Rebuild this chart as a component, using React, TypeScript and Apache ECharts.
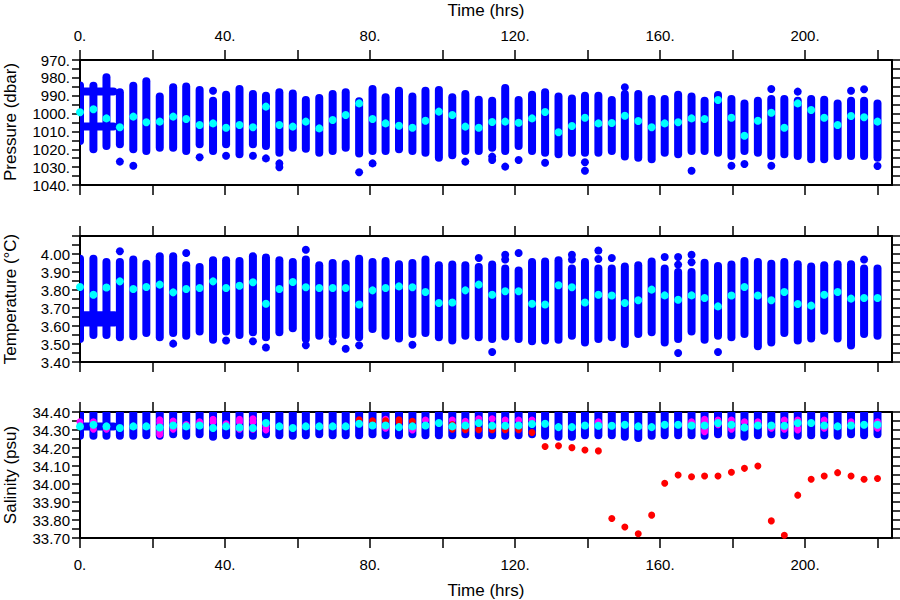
import React, { useEffect, useRef } from "react";
import * as echarts from "echarts";

// ---- axis ticks / labels ----
const timeTicks = [0, 20, 40, 60, 80, 100, 120, 140, 160, 180, 200, 220];
const timeLabels = [0, 40, 80, 120, 160, 200];
const pressureTicks = [970, 975, 980, 985, 990, 995, 1000, 1005, 1010, 1015, 1020, 1025, 1030, 1035, 1040];
const pressureLabels = [970, 980, 990, 1000, 1010, 1020, 1030, 1040];
const temperatureTicks = [3.4, 3.45, 3.5, 3.55, 3.6, 3.65, 3.7, 3.75, 3.8, 3.85, 3.9, 3.95, 4.0, 4.05, 4.1];
const temperatureLabels = [3.4, 3.5, 3.6, 3.7, 3.8, 3.9, 4.0];
const salinityTicks = [33.7, 33.75, 33.8, 33.85, 33.9, 33.95, 34.0, 34.05, 34.1, 34.15, 34.2, 34.25, 34.3, 34.35, 34.4];
const salinityLabels = [33.7, 33.8, 33.9, 34.0, 34.1, 34.2, 34.3, 34.4];

// ---- profile times (hrs) ----
const profileTimes = [0, 3.7, 7.3, 11.0, 14.7, 18.3, 22.0, 25.7, 29.3, 33.0, 36.7, 40.3, 44.0, 47.7, 51.3, 55.0, 58.7, 62.3, 66.0, 69.7, 73.3, 77.0, 80.7, 84.3, 88.0, 91.7, 95.3, 99.0, 102.7, 106.3, 110.0, 113.7, 117.3, 121.0, 124.7, 128.3, 132.0, 135.7, 139.3, 143.0, 146.7, 150.3, 154.0, 157.7, 161.3, 165.0, 168.7, 172.3, 176.0, 179.7, 183.3, 187.0, 190.7, 194.3, 198.0, 201.7, 205.3, 209.0, 212.7, 216.3, 220.0];

// ---- pressure (dbar) ----
const pressureTop = [984.3, 984.4, 979.7, 988.1, 984.4, 981.9, 990.5, 985.3, 984.9, 986.8, 992.8, 989.4, 986.2, 989.0, 990.0, 988.1, 988.7, 992.4, 991.3, 989.0, 988.1, 993.1, 986.2, 990.9, 987.2, 990.5, 987.2, 986.8, 990.9, 989.0, 992.2, 992.8, 985.7, 992.4, 989.4, 988.1, 990.5, 991.5, 990.0, 990.0, 992.4, 989.0, 989.0, 991.8, 991.8, 989.4, 990.5, 992.8, 989.6, 991.8, 994.3, 992.8, 991.8, 991.8, 992.8, 991.8, 992.2, 994.3, 992.8, 992.8, 994.3];
const pressureBottom = [1015.4, 1020.0, 1018.2, 1017.2, 1020.0, 1021.0, 1019.1, 1019.1, 1021.0, 1017.2, 1021.0, 1017.2, 1022.8, 1017.2, 1018.2, 1021.9, 1019.1, 1019.7, 1021.9, 1021.0, 1019.1, 1022.3, 1021.0, 1021.0, 1020.0, 1021.0, 1021.9, 1024.7, 1023.4, 1021.0, 1021.0, 1019.1, 1021.0, 1018.2, 1021.0, 1021.9, 1022.8, 1021.9, 1021.9, 1021.9, 1021.0, 1024.1, 1024.7, 1025.6, 1021.9, 1022.8, 1021.0, 1021.0, 1021.9, 1023.8, 1021.0, 1021.9, 1023.8, 1022.8, 1023.8, 1025.6, 1025.6, 1023.8, 1023.8, 1023.8, 1024.7];
const pressureMean = [999.3, 997.6, 1002.7, 1007.7, 1001.7, 1004.9, 1004.5, 1001.7, 1003.0, 1006.4, 1005.5, 1007.9, 1006.4, 1007.7, 996.1, 1006.4, 1007.3, 1004.5, 1008.3, 1003.6, 1000.8, 994.3, 1003.0, 1005.5, 1006.8, 1007.9, 1004.0, 998.9, 1000.8, 1007.3, 1007.9, 1004.7, 1004.5, 1005.1, 1002.7, 999.1, 1010.5, 1007.0, 1002.3, 1005.5, 1005.3, 1001.2, 1004.2, 1007.7, 1005.5, 1004.9, 1002.7, 1003.0, 992.4, 1002.3, 1012.4, 1004.0, 999.5, 1007.9, 994.3, 998.0, 1002.3, 1006.4, 1001.4, 1002.1, 1004.5];
const pressureOutliers = [
  [11.0, 1026.9], [14.7, 1029.2], [33.0, 1024.5], [36.7, 987.2], [40.3, 1023.6], [47.7, 1023.6], [51.3, 1025.1],
  [55.0, 1027.9], [55.0, 1030.1], [77.0, 1032.9], [80.7, 1027.9], [106.3, 1026.9], [113.7, 1024.1], [113.7, 1026.0],
  [117.3, 1029.7], [121.0, 1026.0], [128.3, 1027.5], [139.3, 1027.3], [139.3, 1032.0], [150.3, 985.3], [168.7, 1032.0],
  [179.7, 1029.2], [183.3, 1028.2], [190.7, 986.2], [190.7, 1029.2], [198.0, 987.7], [212.7, 987.2], [216.3, 986.4], [220.0, 1029.4],
];
// stationary (start, end, value) record at the start of the cruise
const pressureStation = [[0, 9.2, 987.7], [0, 9.2, 1007.3]];

// ---- temperature (deg C) ----
const temperatureTop = [3.974, 3.974, 3.956, 3.956, 3.969, 3.946, 3.987, 3.987, 3.937, 3.928, 3.965, 3.965, 3.961, 3.987, 3.980, 3.965, 3.956, 3.969, 3.937, 3.950, 3.946, 3.974, 3.956, 3.961, 3.943, 3.950, 3.969, 3.937, 3.941, 3.937, 3.928, 3.941, 3.919, 3.909, 3.956, 3.959, 3.965, 3.919, 3.956, 3.919, 3.919, 3.931, 3.937, 3.959, 3.919, 3.900, 3.900, 3.952, 3.933, 3.941, 3.961, 3.956, 3.946, 3.956, 3.943, 3.931, 3.937, 3.943, 3.943, 3.919, 3.919];
const temperatureBottom = [3.528, 3.550, 3.550, 3.537, 3.543, 3.561, 3.537, 3.561, 3.546, 3.569, 3.524, 3.569, 3.550, 3.565, 3.537, 3.565, 3.587, 3.528, 3.546, 3.546, 3.550, 3.537, 3.583, 3.546, 3.531, 3.556, 3.561, 3.537, 3.519, 3.546, 3.537, 3.528, 3.541, 3.528, 3.515, 3.519, 3.524, 3.546, 3.509, 3.528, 3.537, 3.500, 3.556, 3.565, 3.509, 3.528, 3.569, 3.524, 3.546, 3.537, 3.556, 3.487, 3.509, 3.561, 3.519, 3.531, 3.574, 3.531, 3.491, 3.556, 3.546];
const temperatureMean = [3.817, 3.774, 3.814, 3.848, 3.806, 3.817, 3.830, 3.787, 3.806, 3.811, 3.848, 3.811, 3.824, 3.843, 3.724, 3.806, 3.844, 3.815, 3.811, 3.811, 3.811, 3.719, 3.798, 3.811, 3.820, 3.815, 3.789, 3.728, 3.731, 3.798, 3.830, 3.774, 3.793, 3.793, 3.724, 3.719, 3.826, 3.815, 3.731, 3.774, 3.769, 3.728, 3.743, 3.802, 3.770, 3.746, 3.770, 3.756, 3.709, 3.769, 3.817, 3.769, 3.743, 3.789, 3.722, 3.713, 3.774, 3.789, 3.752, 3.756, 3.756];
const temperatureOutliers = [
  [11.0, 4.015], [25.7, 3.502], [29.3, 4.006], [40.3, 3.519], [47.7, 3.515], [51.3, 3.481], [62.3, 4.024], [62.3, 3.493],
  [69.7, 3.515], [73.3, 3.474], [77.0, 3.493], [91.7, 3.496], [110.0, 3.978], [113.7, 3.456], [117.3, 3.996], [117.3, 3.969],
  [121.0, 4.006], [135.7, 3.996], [135.7, 3.969], [143.0, 4.019], [143.0, 3.972], [146.7, 3.978], [161.3, 3.983],
  [165.0, 3.983], [165.0, 3.941], [165.0, 3.450], [168.7, 3.996], [168.7, 3.954], [176.0, 3.456], [216.3, 3.969],
];
const temperatureStation = [[0, 9.5, 3.62], [0, 9.5, 3.64], [0, 9.5, 3.66]];

// ---- salinity (psu) ----
const salinityTop = [34.42, 34.42, 34.42, 34.42, 34.42, 34.42, 34.42, 34.42, 34.42, 34.42, 34.42, 34.42, 34.42, 34.42, 34.42, 34.42, 34.42, 34.42, 34.42, 34.42, 34.42, 34.42, 34.42, 34.42, 34.42, 34.42, 34.42, 34.42, 34.42, 34.42, 34.42, 34.42, 34.42, 34.42, 34.42, 34.42, 34.42, 34.42, 34.42, 34.42, 34.42, 34.42, 34.42, 34.42, 34.42, 34.42, 34.42, 34.42, 34.42, 34.42, 34.42, 34.42, 34.42, 34.42, 34.42, 34.42, 34.42, 34.42, 34.42, 34.42, 34.42];
const salinityBottom = [34.268, 34.268, 34.268, 34.268, 34.268, 34.271, 34.268, 34.277, 34.268, 34.277, 34.262, 34.271, 34.271, 34.268, 34.277, 34.271, 34.268, 34.271, 34.277, 34.271, 34.271, 34.271, 34.277, 34.271, 34.271, 34.277, 34.271, 34.271, 34.271, 34.277, 34.271, 34.271, 34.268, 34.271, 34.277, 34.268, 34.262, 34.262, 34.271, 34.271, 34.271, 34.262, 34.255, 34.268, 34.271, 34.271, 34.271, 34.268, 34.277, 34.271, 34.262, 34.271, 34.277, 34.271, 34.268, 34.271, 34.271, 34.268, 34.277, 34.271, 34.277];
const salinityMean = [34.320, 34.329, 34.320, 34.311, 34.320, 34.320, 34.314, 34.325, 34.320, 34.325, 34.311, 34.320, 34.314, 34.311, 34.339, 34.320, 34.311, 34.320, 34.320, 34.320, 34.320, 34.335, 34.325, 34.325, 34.316, 34.320, 34.325, 34.339, 34.320, 34.325, 34.339, 34.324, 34.324, 34.325, 34.333, 34.335, 34.316, 34.316, 34.325, 34.324, 34.324, 34.329, 34.320, 34.316, 34.329, 34.329, 34.325, 34.325, 34.339, 34.329, 34.314, 34.325, 34.325, 34.324, 34.339, 34.339, 34.325, 34.320, 34.325, 34.329, 34.329];
const salinityStation = [[0, 9.3, 34.32]];
const salinityMagenta = [
  [0, 34.345], [3.7, 34.345], [3.7, 34.305], [7.3, 34.305], [22.0, 34.357], [22.0, 34.34], [22.0, 34.29], [22.0, 34.275],
  [25.7, 34.35], [25.7, 34.305], [29.3, 34.33], [33.0, 34.345], [36.7, 34.36], [36.7, 34.345], [40.3, 34.335],
  [44.0, 34.36], [44.0, 34.345], [44.0, 34.305], [47.7, 34.362], [47.7, 34.345], [47.7, 34.305], [51.3, 34.32], [51.3, 34.30],
  [84.3, 34.36], [84.3, 34.31], [91.7, 34.31], [91.7, 34.30], [95.3, 34.355], [102.7, 34.355], [106.3, 34.348],
  [110.0, 34.362], [113.7, 34.362], [117.3, 34.355], [121.0, 34.355], [124.7, 34.355], [143.0, 34.345], [168.7, 34.345],
  [172.3, 34.36], [172.3, 34.345], [172.3, 34.30], [172.3, 34.29], [176.0, 34.355], [176.0, 34.33], [179.7, 34.355], [179.7, 34.305],
  [183.3, 34.345], [187.0, 34.345], [190.7, 34.31], [194.3, 34.355], [194.3, 34.305], [198.0, 34.355], [198.0, 34.31], [198.0, 34.30],
  [205.3, 34.355], [205.3, 34.31], [212.7, 34.345], [220.0, 34.345], [220.0, 34.31],
];
const salinityRed = [
  [77.0, 34.357], [80.7, 34.351], [84.3, 34.351], [88.0, 34.357], [88.0, 34.345], [91.7, 34.348], [102.7, 34.33], [102.7, 34.305],
  [106.3, 34.301], [110.0, 34.301], [113.7, 34.301], [117.3, 34.301], [121.0, 34.301], [124.7, 34.286],
  [128.3, 34.208], [132.0, 34.212], [135.7, 34.202], [139.3, 34.189], [143.0, 34.184], [146.7, 33.808], [150.3, 33.761],
  [154.0, 33.724], [157.7, 33.827], [161.3, 34.004], [165.0, 34.05], [168.7, 34.04], [172.3, 34.044], [176.0, 34.044],
  [179.7, 34.065], [183.3, 34.087], [187.0, 34.1], [190.7, 33.795], [194.3, 33.715], [198.0, 33.938], [201.7, 34.026],
  [205.3, 34.044], [209.0, 34.063], [212.7, 34.044], [216.3, 34.026], [220.0, 34.031],
];

const BLUE = "#0000ff";
const CYAN = "#00ffff";
const MAGENTA = "#ff00ff";
const RED = "#ff0000";
const FONT = "Liberation Sans";

const profileRender = (params: any, api: any) => {
  const a = api.coord([api.value(0), api.value(1)]);
  const b = api.coord([api.value(0), api.value(2)]);
  return {
    type: "line",
    shape: { x1: a[0], y1: a[1], x2: b[0], y2: b[1] },
    style: { stroke: BLUE, lineWidth: 8, lineCap: "round" },
  };
};
const stationRender = (params: any, api: any) => {
  const a = api.coord([api.value(0), api.value(2)]);
  const b = api.coord([api.value(1), api.value(2)]);
  return {
    type: "line",
    shape: { x1: a[0], y1: a[1], x2: b[0], y2: b[1] },
    style: { stroke: BLUE, lineWidth: 8, lineCap: "round" },
  };
};

export default function App() {
  const ref = useRef<HTMLDivElement>(null);
  useEffect(() => {
    if (!ref.current) return;
    const chart = echarts.init(ref.current, undefined, { renderer: "svg" });

    const grids = [
      { left: 80, top: 60, width: 812, height: 125 },
      { left: 80, top: 236, width: 812, height: 126 },
      { left: 80, top: 412, width: 812, height: 126 },
    ];
    const lineStyle = { color: "#000", width: 2 };
    const tickStyle = { color: "#000", width: 1.5 };
    const labelStyle = { color: "#000", fontFamily: FONT, fontSize: 15 };

    const xAxes: any[] = [];
    grids.forEach((g, i) => {
      ["bottom", "top"].forEach((pos) => {
        const showLabel = (i === 0 && pos === "top") || (i === 2 && pos === "bottom");
        xAxes.push({
          type: "value",
          gridIndex: i,
          position: pos,
          min: 0,
          max: 224,
          axisLine: { show: true, onZero: false, lineStyle },
          axisTick: { show: true, inside: false, length: 10, lineStyle: tickStyle, customValues: timeTicks },
          axisLabel: {
            show: showLabel,
            ...labelStyle,
            margin: pos === "top" ? 17 : 19,
            customValues: timeLabels,
            formatter: (v: number) => `${v}.`,
          },
          splitLine: { show: false },
        });
      });
    });

    const yDefs = [
      { min: 970, max: 1040, inverse: true, ticks: pressureTicks, labels: pressureLabels, fmt: (v: number) => `${v}.` },
      { min: 3.4, max: 4.1, inverse: false, ticks: temperatureTicks, labels: temperatureLabels, fmt: (v: number) => v.toFixed(2) },
      { min: 33.7, max: 34.4, inverse: false, ticks: salinityTicks, labels: salinityLabels, fmt: (v: number) => v.toFixed(2) },
    ];
    const yAxes: any[] = [];
    yDefs.forEach((d, i) => {
      ["left", "right"].forEach((pos) => {
        yAxes.push({
          type: "value",
          gridIndex: i,
          position: pos,
          min: d.min,
          max: d.max,
          inverse: d.inverse,
          axisLine: { show: true, onZero: false, lineStyle },
          axisTick: { show: true, inside: false, length: 8, lineStyle: tickStyle, customValues: d.ticks },
          axisLabel: {
            show: pos === "left",
            ...labelStyle,
            margin: 10,
            customValues: d.labels,
            formatter: d.fmt,
          },
          splitLine: { show: false },
        });
      });
    });

    const profileData = (lo: number[], hi: number[]) => profileTimes.map((t, i) => [t, lo[i], hi[i]]);
    const meanData = (m: number[]) => profileTimes.map((t, i) => [t, m[i]]);
    const dots = (i: number, color: string, size: number, data: number[][]) => ({
      type: "scatter",
      xAxisIndex: 2 * i,
      yAxisIndex: 2 * i,
      symbolSize: size,
      itemStyle: { color, opacity: 1 },
      emphasis: { disabled: true },
      data,
    });

    const panelSeries = (i: number, lo: number[], hi: number[], mean: number[], outliers: number[][], station: number[][], extra: any[] = []) => [
      { type: "custom", xAxisIndex: 2 * i, yAxisIndex: 2 * i, clip: true, renderItem: profileRender, data: profileData(lo, hi) },
      { type: "custom", xAxisIndex: 2 * i, yAxisIndex: 2 * i, clip: true, renderItem: stationRender, data: station },
      dots(i, BLUE, 8, outliers),
      ...extra,
      dots(i, CYAN, 8, meanData(mean)),
    ];

    const series = [
      ...panelSeries(0, pressureTop, pressureBottom, pressureMean, pressureOutliers, pressureStation),
      ...panelSeries(1, temperatureBottom, temperatureTop, temperatureMean, temperatureOutliers, temperatureStation),
      ...panelSeries(2, salinityBottom, salinityTop, salinityMean, [], salinityStation, [
        dots(2, MAGENTA, 7, salinityMagenta),
        dots(2, RED, 7, salinityRed),
      ]),
    ];

    const titleStyle = { fill: "#000", fontFamily: FONT, fontSize: 17, align: "center", verticalAlign: "middle" };
    const graphic = [
      { type: "text", x: 486, y: 10, style: { ...titleStyle, text: "Time (hrs)" } },
      { type: "text", x: 486, y: 590, style: { ...titleStyle, text: "Time (hrs)" } },
      { type: "text", x: 10, y: 122, rotation: Math.PI / 2, style: { ...titleStyle, text: "Pressure (dbar)" } },
      { type: "text", x: 10, y: 299, rotation: Math.PI / 2, style: { ...titleStyle, text: "Temperature (°C)" } },
      { type: "text", x: 10, y: 475, rotation: Math.PI / 2, style: { ...titleStyle, text: "Salinity (psu)" } },
    ];

    chart.setOption({
      animation: false,
      backgroundColor: "#fff",
      textStyle: { fontFamily: FONT },
      grid: grids,
      xAxis: xAxes,
      yAxis: yAxes,
      series,
      graphic,
    });
    return () => chart.dispose();
  }, []);
  return <div ref={ref} style={{ position: "fixed", left: 0, top: 0, width: 900, height: 600 }} />;
}
